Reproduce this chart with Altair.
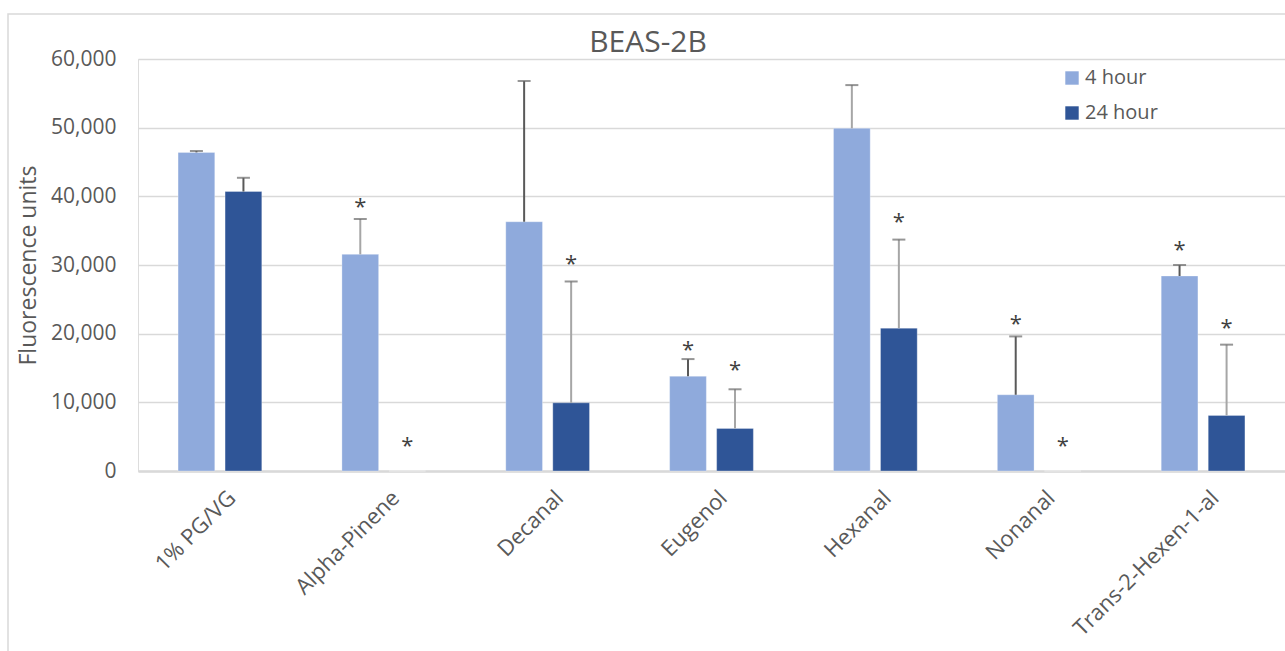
import altair as alt
import pandas as pd

# Compounds tested on BEAS-2B cells
compounds = ["1% PG/VG", "Alpha-Pinene", "Decanal", "Eugenol",
             "Hexanal", "Nonanal", "Trans-2-Hexen-1-al"]
times = ["4 hour", "24 hour"]

# Mean fluorescence and upper error (SD) per compound
mean_4h = [46400, 31550, 36300, 13800, 49900, 11100, 28400]
err_4h = [200, 5150, 20500, 2500, 6300, 8500, 1600]
mean_24h = [40700, 0, 9930, 6200, 20800, 0, 8100]
err_24h = [2000, 0, 17670, 5700, 12900, 0, 10300]

# Error bar shade per bar ("d" = dark grey, "l" = light grey)
shade_4h = ["d", "l", "d", "d", "l", "d", "d"]
shade_24h = ["d", "l", "l", "l", "l", "l", "l"]

# Height at which the significance asterisk sits (None = not significant)
star_4h = [None, 39000, None, 18200, None, 22000, 32800]
star_24h = [None, 4200, 30800, 15300, 36900, 4200, 21400]

rows = []
for i, c in enumerate(compounds):
    for t, m, e, s, st in (
        ("4 hour", mean_4h[i], err_4h[i], shade_4h[i], star_4h[i]),
        ("24 hour", mean_24h[i], err_24h[i], shade_24h[i], star_24h[i]),
    ):
        rows.append({"compound": c, "time": t, "mean": m, "err": e,
                     "upper": m + e, "shade": s, "star": st})
df = pd.DataFrame(rows)

FONT = "Open Sans"
TEXT = "#595959"
GRID = "#d9d9d9"

x_enc = alt.X("compound:N", sort=compounds,
              scale=alt.Scale(paddingInner=0.489, paddingOuter=0.2445),
              axis=alt.Axis(title=None, labelAngle=-45, labelFontSize=22,
                            labelColor=TEXT, labelFont=FONT, labelPadding=16,
                            labelOffset=5, labelLimit=400, ticks=False,
                            domainColor=GRID, domainWidth=2.5, grid=False))
xo_enc = alt.XOffset("time:N", sort=times,
                     scale=alt.Scale(paddingInner=0.219, paddingOuter=0))

base = alt.Chart(df)

bars = base.mark_bar(stroke="white", strokeWidth=0.6, strokeOpacity=0.5).encode(
    x=x_enc,
    xOffset=xo_enc,
    y=alt.Y("mean:Q",
            scale=alt.Scale(domain=[0, 60000], nice=False),
            axis=alt.Axis(title="Fluorescence units", values=list(range(0, 60001, 10000)),
                          format=",d", labelFontSize=21, labelColor=TEXT, labelFont=FONT,
                          labelPadding=22, ticks=False, domain=False,
                          gridColor=GRID, gridWidth=1.4,
                          titleFont=FONT, titleFontSize=23, titleFontWeight="normal",
                          titleColor=TEXT, titlePadding=10)),
    color=alt.Color("time:N", sort=times,
                    scale=alt.Scale(domain=times, range=["#8faadc", "#2f5597"]),
                    legend=alt.Legend(title=None, orient="none", legendX=924, legendY=9,
                                      symbolType="square", symbolSize=180,
                                      symbolStrokeWidth=0, labelFontSize=20,
                                      labelFont=FONT, labelColor=TEXT,
                                      rowPadding=15, labelOffset=3, padding=0)),
)

err_data = base.transform_filter("datum.err > 0")
shade_scale = alt.Scale(domain=["d", "l"], range=["#595959", "#a6a6a6"])

err_lines = err_data.mark_rule(strokeWidth=2).encode(
    x=alt.X("compound:N", sort=compounds),
    xOffset=alt.XOffset("time:N", sort=times),
    y="mean:Q",
    y2="upper:Q",
    color=alt.Color("shade:N", scale=shade_scale, legend=None),
)

err_caps = err_data.mark_tick(size=13, thickness=2, color="#6a6a6a").encode(
    x=alt.X("compound:N", sort=compounds),
    xOffset=alt.XOffset("time:N", sort=times),
    y="upper:Q",
)

stars = base.transform_filter("datum.star != null").mark_text(
    text="*", font=FONT, fontSize=22, color="#404040", baseline="alphabetic", dy=11
).encode(
    x=alt.X("compound:N", sort=compounds),
    xOffset=alt.XOffset("time:N", sort=times),
    y="star:Q",
)

# Outer chart-area border
frame = alt.Chart(pd.DataFrame({"f": [0]})).mark_rect(
    fillOpacity=0, stroke=GRID, strokeWidth=1.5
).encode(
    x=alt.value(-130), x2=alt.value(1300), y=alt.value(-45), y2=alt.value(700)
)

# Chart heading, centred on the chart area rather than the plot area
heading = alt.Chart(pd.DataFrame({"t": ["BEAS-2B"]})).mark_text(
    font=FONT, fontSize=30, color=TEXT, baseline="alphabetic", align="center"
).encode(text="t:N", x=alt.value(510), y=alt.value(-7))

chart = alt.layer(frame, bars, err_lines, err_caps, stars, heading).resolve_scale(
    color="independent"
).properties(
    width=1147,
    height=412,
    padding={"left": 138, "top": 59, "right": 0, "bottom": 180},
    autosize=alt.AutoSizeParams(type="none"),
).configure_view(stroke=None).configure(background="white")

chart.save("out.html", embed_options={"renderer": "svg", "actions": False})
